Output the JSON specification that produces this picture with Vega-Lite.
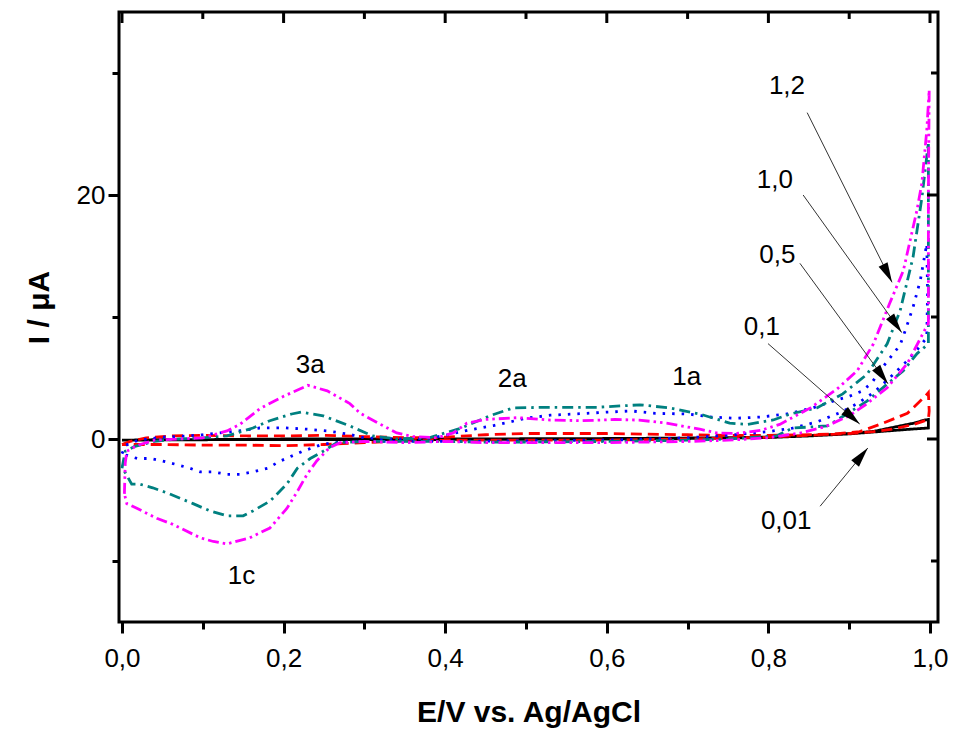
{
  "$schema": "https://vega.github.io/schema/vega-lite/v6.json",
  "width": 819,
  "height": 610,
  "autosize": {"type": "none"},
  "padding": {"left": 119, "top": 12, "right": 15, "bottom": 107},
  "config": {
    "view": {"stroke": "black", "strokeWidth": 3},
    "axis": {"domain": false, "grid": false, "tickColor": "black", "tickWidth": 3, "labelColor": "black", "labelFont": "Liberation Sans", "labelFontSize": 26, "titleFont": "Liberation Sans", "titleFontWeight": "bold", "titleFontSize": 30, "titleColor": "black", "labelOverlap": false, "labelFlush": false, "labelBound": false}
  },
  "datasets": {
    "cv": [
      {"s":"0,01","o":1,"E":0,"I":-0.1},{"s":"0,01","o":2,"E":0.05,"I":-0.05},{"s":"0,01","o":3,"E":0.1,"I":-0.05},{"s":"0,01","o":4,"E":0.2,"I":0},{"s":"0,01","o":5,"E":0.3,"I":0},{"s":"0,01","o":6,"E":0.4,"I":0},{"s":"0,01","o":7,"E":0.5,"I":0.02},{"s":"0,01","o":8,"E":0.6,"I":0.04},{"s":"0,01","o":9,"E":0.7,"I":0.08},{"s":"0,01","o":10,"E":0.75,"I":0.11},{"s":"0,01","o":11,"E":0.8,"I":0.16},{"s":"0,01","o":12,"E":0.85,"I":0.27},{"s":"0,01","o":13,"E":0.9,"I":0.45},{"s":"0,01","o":14,"E":0.93,"I":0.62},{"s":"0,01","o":15,"E":0.963,"I":1.07},{"s":"0,01","o":16,"E":0.98,"I":1.3},{"s":"0,01","o":17,"E":0.994,"I":1.56},{"s":"0,01","o":18,"E":0.998,"I":1.6},
      {"s":"0,01","o":19,"E":0.998,"I":0.9},{"s":"0,01","o":20,"E":0.975,"I":0.8},{"s":"0,01","o":21,"E":0.947,"I":0.66},{"s":"0,01","o":22,"E":0.9,"I":0.42},{"s":"0,01","o":23,"E":0.85,"I":0.25},{"s":"0,01","o":24,"E":0.8,"I":0.12},{"s":"0,01","o":25,"E":0.7,"I":0.04},{"s":"0,01","o":26,"E":0.6,"I":0},{"s":"0,01","o":27,"E":0.5,"I":-0.02},{"s":"0,01","o":28,"E":0.4,"I":-0.04},{"s":"0,01","o":29,"E":0.3,"I":-0.05},{"s":"0,01","o":30,"E":0.2,"I":-0.05},{"s":"0,01","o":31,"E":0.1,"I":-0.06},{"s":"0,01","o":32,"E":0,"I":-0.1},

      {"s":"0,1","o":1,"E":0,"I":-0.45},{"s":"0,1","o":2,"E":0.01,"I":-0.2},{"s":"0,1","o":3,"E":0.03,"I":0.1},{"s":"0,1","o":4,"E":0.06,"I":0.25},{"s":"0,1","o":5,"E":0.1,"I":0.3},{"s":"0,1","o":6,"E":0.15,"I":0.25},{"s":"0,1","o":7,"E":0.2,"I":0.25},{"s":"0,1","o":8,"E":0.25,"I":0.3},{"s":"0,1","o":9,"E":0.3,"I":0.2},{"s":"0,1","o":10,"E":0.35,"I":0.1},{"s":"0,1","o":11,"E":0.4,"I":0.15},{"s":"0,1","o":12,"E":0.45,"I":0.35},{"s":"0,1","o":13,"E":0.5,"I":0.45},{"s":"0,1","o":14,"E":0.55,"I":0.45},{"s":"0,1","o":15,"E":0.6,"I":0.45},{"s":"0,1","o":16,"E":0.65,"I":0.4},{"s":"0,1","o":17,"E":0.7,"I":0.35},{"s":"0,1","o":18,"E":0.75,"I":0.3},{"s":"0,1","o":19,"E":0.8,"I":0.3},{"s":"0,1","o":20,"E":0.85,"I":0.35},{"s":"0,1","o":21,"E":0.88,"I":0.4},{"s":"0,1","o":22,"E":0.913,"I":0.6},{"s":"0,1","o":23,"E":0.942,"I":1.3},{"s":"0,1","o":24,"E":0.972,"I":2.1},{"s":"0,1","o":25,"E":0.994,"I":3.5},{"s":"0,1","o":26,"E":0.998,"I":3.8},
      {"s":"0,1","o":27,"E":0.999,"I":2.3},{"s":"0,1","o":28,"E":0.998,"I":1.6},{"s":"0,1","o":29,"E":0.98,"I":1.2},{"s":"0,1","o":30,"E":0.957,"I":0.85},{"s":"0,1","o":31,"E":0.93,"I":0.6},{"s":"0,1","o":32,"E":0.9,"I":0.45},{"s":"0,1","o":33,"E":0.85,"I":0.3},{"s":"0,1","o":34,"E":0.8,"I":0.15},{"s":"0,1","o":35,"E":0.7,"I":0},{"s":"0,1","o":36,"E":0.6,"I":-0.1},{"s":"0,1","o":37,"E":0.5,"I":-0.1},{"s":"0,1","o":38,"E":0.4,"I":-0.1},{"s":"0,1","o":39,"E":0.35,"I":-0.15},{"s":"0,1","o":40,"E":0.3,"I":-0.3},{"s":"0,1","o":41,"E":0.25,"I":-0.45},{"s":"0,1","o":42,"E":0.2,"I":-0.55},{"s":"0,1","o":43,"E":0.15,"I":-0.5},{"s":"0,1","o":44,"E":0.1,"I":-0.5},{"s":"0,1","o":45,"E":0.05,"I":-0.45},{"s":"0,1","o":46,"E":0.02,"I":-0.45},{"s":"0,1","o":47,"E":0,"I":-0.45},

      {"s":"0,5","o":1,"E":0,"I":-1.2},{"s":"0,5","o":2,"E":0.005,"I":-0.5},{"s":"0,5","o":3,"E":0.02,"I":-0.1},{"s":"0,5","o":4,"E":0.05,"I":0.15},{"s":"0,5","o":5,"E":0.08,"I":0.25},{"s":"0,5","o":6,"E":0.1,"I":0.35},{"s":"0,5","o":7,"E":0.12,"I":0.5},{"s":"0,5","o":8,"E":0.15,"I":0.7},{"s":"0,5","o":9,"E":0.17,"I":0.9},{"s":"0,5","o":10,"E":0.2,"I":0.92},{"s":"0,5","o":11,"E":0.23,"I":0.8},{"s":"0,5","o":12,"E":0.255,"I":0.65},{"s":"0,5","o":13,"E":0.28,"I":0.4},{"s":"0,5","o":14,"E":0.3,"I":0.1},{"s":"0,5","o":15,"E":0.33,"I":0},{"s":"0,5","o":16,"E":0.36,"I":0},{"s":"0,5","o":17,"E":0.38,"I":0.05},{"s":"0,5","o":18,"E":0.4,"I":0.3},{"s":"0,5","o":19,"E":0.43,"I":0.75},{"s":"0,5","o":20,"E":0.46,"I":1.1},{"s":"0,5","o":21,"E":0.5,"I":1.7},{"s":"0,5","o":22,"E":0.53,"I":1.95},{"s":"0,5","o":23,"E":0.56,"I":2.05},{"s":"0,5","o":24,"E":0.6,"I":2.2},{"s":"0,5","o":25,"E":0.63,"I":2.3},{"s":"0,5","o":26,"E":0.66,"I":2.1},{"s":"0,5","o":27,"E":0.7,"I":2.05},{"s":"0,5","o":28,"E":0.73,"I":1.8},{"s":"0,5","o":29,"E":0.76,"I":1.7},{"s":"0,5","o":30,"E":0.79,"I":1.8},{"s":"0,5","o":31,"E":0.823,"I":2.05},{"s":"0,5","o":32,"E":0.855,"I":2.55},{"s":"0,5","o":33,"E":0.88,"I":3.1},{"s":"0,5","o":34,"E":0.9,"I":3.5},{"s":"0,5","o":35,"E":0.915,"I":3.9},{"s":"0,5","o":36,"E":0.928,"I":4.6},{"s":"0,5","o":37,"E":0.938,"I":5.6},{"s":"0,5","o":38,"E":0.95,"I":6.6},{"s":"0,5","o":39,"E":0.963,"I":7.7},{"s":"0,5","o":40,"E":0.97,"I":9.0},{"s":"0,5","o":41,"E":0.979,"I":10.8},{"s":"0,5","o":42,"E":0.988,"I":13.0},{"s":"0,5","o":43,"E":0.996,"I":16.0},
      {"s":"0,5","o":44,"E":0.997,"I":12.0},{"s":"0,5","o":45,"E":0.996,"I":8.3},{"s":"0,5","o":46,"E":0.985,"I":7.4},{"s":"0,5","o":47,"E":0.97,"I":6.3},{"s":"0,5","o":48,"E":0.95,"I":5.0},{"s":"0,5","o":49,"E":0.93,"I":3.8},{"s":"0,5","o":50,"E":0.91,"I":2.9},{"s":"0,5","o":51,"E":0.89,"I":2.2},{"s":"0,5","o":52,"E":0.86,"I":1.4},{"s":"0,5","o":53,"E":0.83,"I":0.9},{"s":"0,5","o":54,"E":0.8,"I":0.6},{"s":"0,5","o":55,"E":0.75,"I":0.3},{"s":"0,5","o":56,"E":0.7,"I":0.1},{"s":"0,5","o":57,"E":0.6,"I":-0.1},{"s":"0,5","o":58,"E":0.5,"I":-0.15},{"s":"0,5","o":59,"E":0.4,"I":-0.2},{"s":"0,5","o":60,"E":0.3,"I":-0.2},{"s":"0,5","o":61,"E":0.26,"I":-0.3},{"s":"0,5","o":62,"E":0.245,"I":-0.5},{"s":"0,5","o":63,"E":0.224,"I":-1.0},{"s":"0,5","o":64,"E":0.196,"I":-1.8},{"s":"0,5","o":65,"E":0.18,"I":-2.4},{"s":"0,5","o":66,"E":0.162,"I":-2.7},{"s":"0,5","o":67,"E":0.146,"I":-2.9},{"s":"0,5","o":68,"E":0.13,"I":-2.9},{"s":"0,5","o":69,"E":0.113,"I":-2.7},{"s":"0,5","o":70,"E":0.097,"I":-2.7},{"s":"0,5","o":71,"E":0.084,"I":-2.4},{"s":"0,5","o":72,"E":0.068,"I":-2.1},{"s":"0,5","o":73,"E":0.05,"I":-1.8},{"s":"0,5","o":74,"E":0.035,"I":-1.6},{"s":"0,5","o":75,"E":0.019,"I":-1.6},{"s":"0,5","o":76,"E":0.004,"I":-1.3},{"s":"0,5","o":77,"E":0,"I":-1.2},

      {"s":"1,0","o":1,"E":0,"I":-2.4},{"s":"1,0","o":2,"E":0.004,"I":-1.0},{"s":"1,0","o":3,"E":0.016,"I":-0.6},{"s":"1,0","o":4,"E":0.04,"I":-0.2},{"s":"1,0","o":5,"E":0.07,"I":0},{"s":"1,0","o":6,"E":0.1,"I":0.1},{"s":"1,0","o":7,"E":0.13,"I":0.25},{"s":"1,0","o":8,"E":0.162,"I":0.9},{"s":"1,0","o":9,"E":0.183,"I":1.5},{"s":"1,0","o":10,"E":0.21,"I":2.05},{"s":"1,0","o":11,"E":0.222,"I":2.2},{"s":"1,0","o":12,"E":0.249,"I":1.9},{"s":"1,0","o":13,"E":0.282,"I":1.07},{"s":"1,0","o":14,"E":0.31,"I":0.25},{"s":"1,0","o":15,"E":0.34,"I":0},{"s":"1,0","o":16,"E":0.38,"I":0.1},{"s":"1,0","o":17,"E":0.42,"I":0.9},{"s":"1,0","o":18,"E":0.455,"I":1.9},{"s":"1,0","o":19,"E":0.484,"I":2.55},{"s":"1,0","o":20,"E":0.526,"I":2.6},{"s":"1,0","o":21,"E":0.588,"I":2.6},{"s":"1,0","o":22,"E":0.641,"I":2.8},{"s":"1,0","o":23,"E":0.678,"I":2.55},{"s":"1,0","o":24,"E":0.715,"I":2.05},{"s":"1,0","o":25,"E":0.752,"I":1.3},{"s":"1,0","o":26,"E":0.774,"I":1.2},{"s":"1,0","o":27,"E":0.806,"I":1.56},{"s":"1,0","o":28,"E":0.827,"I":2.05},{"s":"1,0","o":29,"E":0.86,"I":2.55},{"s":"1,0","o":30,"E":0.892,"I":3.7},{"s":"1,0","o":31,"E":0.922,"I":5.3},{"s":"1,0","o":32,"E":0.947,"I":7.8},{"s":"1,0","o":33,"E":0.963,"I":10.5},{"s":"1,0","o":34,"E":0.979,"I":14.9},{"s":"1,0","o":35,"E":0.99,"I":19.8},{"s":"1,0","o":36,"E":0.998,"I":24.3},
      {"s":"1,0","o":37,"E":0.998,"I":16.0},{"s":"1,0","o":38,"E":0.998,"I":7.8},{"s":"1,0","o":39,"E":0.984,"I":7.0},{"s":"1,0","o":40,"E":0.967,"I":5.6},{"s":"1,0","o":41,"E":0.947,"I":4.5},{"s":"1,0","o":42,"E":0.922,"I":3.1},{"s":"1,0","o":43,"E":0.897,"I":2.05},{"s":"1,0","o":44,"E":0.873,"I":1.07},{"s":"1,0","o":45,"E":0.83,"I":0.9},{"s":"1,0","o":46,"E":0.81,"I":0.25},{"s":"1,0","o":47,"E":0.75,"I":0},{"s":"1,0","o":48,"E":0.7,"I":-0.1},{"s":"1,0","o":49,"E":0.6,"I":-0.2},{"s":"1,0","o":50,"E":0.5,"I":-0.25},{"s":"1,0","o":51,"E":0.45,"I":-0.25},{"s":"1,0","o":52,"E":0.4,"I":-0.2},{"s":"1,0","o":53,"E":0.35,"I":-0.2},{"s":"1,0","o":54,"E":0.3,"I":-0.2},{"s":"1,0","o":55,"E":0.266,"I":-0.3},{"s":"1,0","o":56,"E":0.249,"I":-1.0},{"s":"1,0","o":57,"E":0.233,"I":-1.6},{"s":"1,0","o":58,"E":0.217,"I":-2.4},{"s":"1,0","o":59,"E":0.204,"I":-3.7},{"s":"1,0","o":60,"E":0.183,"I":-5.1},{"s":"1,0","o":61,"E":0.162,"I":-5.9},{"s":"1,0","o":62,"E":0.15,"I":-6.3},{"s":"1,0","o":63,"E":0.13,"I":-6.3},{"s":"1,0","o":64,"E":0.109,"I":-5.9},{"s":"1,0","o":65,"E":0.088,"I":-5.3},{"s":"1,0","o":66,"E":0.059,"I":-4.5},{"s":"1,0","o":67,"E":0.038,"I":-4.0},{"s":"1,0","o":68,"E":0.022,"I":-3.7},{"s":"1,0","o":69,"E":0.012,"I":-3.7},{"s":"1,0","o":70,"E":0.001,"I":-2.4},

      {"s":"1,2","o":1,"E":0.003,"I":-4.5},{"s":"1,2","o":2,"E":0.004,"I":-2.0},{"s":"1,2","o":3,"E":0.006,"I":-1.0},{"s":"1,2","o":4,"E":0.02,"I":-0.5},{"s":"1,2","o":5,"E":0.04,"I":-0.1},{"s":"1,2","o":6,"E":0.07,"I":0},{"s":"1,2","o":7,"E":0.1,"I":0.1},{"s":"1,2","o":8,"E":0.13,"I":0.66},{"s":"1,2","o":9,"E":0.146,"I":1.2},{"s":"1,2","o":10,"E":0.171,"I":2.5},{"s":"1,2","o":11,"E":0.2,"I":3.5},{"s":"1,2","o":12,"E":0.23,"I":4.4},{"s":"1,2","o":13,"E":0.254,"I":3.95},{"s":"1,2","o":14,"E":0.282,"I":2.9},{"s":"1,2","o":15,"E":0.295,"I":2.1},{"s":"1,2","o":16,"E":0.32,"I":1.2},{"s":"1,2","o":17,"E":0.34,"I":0.5},{"s":"1,2","o":18,"E":0.36,"I":0.2},{"s":"1,2","o":19,"E":0.39,"I":0.1},{"s":"1,2","o":20,"E":0.41,"I":0.5},{"s":"1,2","o":21,"E":0.427,"I":1.3},{"s":"1,2","o":22,"E":0.45,"I":1.6},{"s":"1,2","o":23,"E":0.49,"I":1.75},{"s":"1,2","o":24,"E":0.53,"I":1.55},{"s":"1,2","o":25,"E":0.57,"I":1.5},{"s":"1,2","o":26,"E":0.61,"I":1.6},{"s":"1,2","o":27,"E":0.64,"I":1.55},{"s":"1,2","o":28,"E":0.674,"I":1.3},{"s":"1,2","o":29,"E":0.715,"I":0.8},{"s":"1,2","o":30,"E":0.736,"I":0.5},{"s":"1,2","o":31,"E":0.76,"I":0.45},{"s":"1,2","o":32,"E":0.79,"I":0.7},{"s":"1,2","o":33,"E":0.814,"I":1.2},{"s":"1,2","o":34,"E":0.852,"I":2.55},{"s":"1,2","o":35,"E":0.885,"I":4.1},{"s":"1,2","o":36,"E":0.91,"I":5.6},{"s":"1,2","o":37,"E":0.93,"I":7.8},{"s":"1,2","o":38,"E":0.95,"I":11.1},{"s":"1,2","o":39,"E":0.967,"I":13.8},{"s":"1,2","o":40,"E":0.984,"I":18.8},{"s":"1,2","o":41,"E":0.99,"I":21},{"s":"1,2","o":42,"E":0.996,"I":25.3},{"s":"1,2","o":43,"E":0.999,"I":28.6},
      {"s":"1,2","o":44,"E":0.998,"I":20},{"s":"1,2","o":45,"E":0.998,"I":9.5},{"s":"1,2","o":46,"E":0.972,"I":6.2},{"s":"1,2","o":47,"E":0.947,"I":4.2},{"s":"1,2","o":48,"E":0.92,"I":2.8},{"s":"1,2","o":49,"E":0.9,"I":1.9},{"s":"1,2","o":50,"E":0.87,"I":1.0},{"s":"1,2","o":51,"E":0.84,"I":0.5},{"s":"1,2","o":52,"E":0.8,"I":0.1},{"s":"1,2","o":53,"E":0.75,"I":-0.1},{"s":"1,2","o":54,"E":0.7,"I":-0.2},{"s":"1,2","o":55,"E":0.6,"I":-0.3},{"s":"1,2","o":56,"E":0.5,"I":-0.3},{"s":"1,2","o":57,"E":0.45,"I":-0.3},{"s":"1,2","o":58,"E":0.4,"I":-0.2},{"s":"1,2","o":59,"E":0.35,"I":-0.3},{"s":"1,2","o":60,"E":0.3,"I":-0.2},{"s":"1,2","o":61,"E":0.27,"I":-0.3},{"s":"1,2","o":62,"E":0.257,"I":-0.7},{"s":"1,2","o":63,"E":0.241,"I":-1.8},{"s":"1,2","o":64,"E":0.229,"I":-2.9},{"s":"1,2","o":65,"E":0.217,"I":-4.3},{"s":"1,2","o":66,"E":0.204,"I":-5.7},{"s":"1,2","o":67,"E":0.183,"I":-7.3},{"s":"1,2","o":68,"E":0.158,"I":-8.1},{"s":"1,2","o":69,"E":0.13,"I":-8.6},{"s":"1,2","o":70,"E":0.113,"I":-8.4},{"s":"1,2","o":71,"E":0.097,"I":-8.1},{"s":"1,2","o":72,"E":0.063,"I":-7.0},{"s":"1,2","o":73,"E":0.043,"I":-6.5},{"s":"1,2","o":74,"E":0.019,"I":-5.7},{"s":"1,2","o":75,"E":0.006,"I":-5.3},{"s":"1,2","o":76,"E":0.003,"I":-4.5}
    ],
    "arrows": [
      {"label":"1,2","x":0.848,"y":26.75,"x2":0.953,"y2":12.84},
      {"label":"1,0","x":0.843,"y":20.0,"x2":0.965,"y2":8.72},
      {"label":"0,5","x":0.839,"y":14.4,"x2":0.948,"y2":4.53},
      {"label":"0,1","x":0.7995,"y":7.82,"x2":0.913,"y2":1.23},
      {"label":"0,01","x":0.864,"y":-5.51,"x2":0.923,"y2":-0.74}
    ],
    "labels": [
      {"t":"1,2","E":0.823,"I":28.9},
      {"t":"1,0","E":0.808,"I":21.2},
      {"t":"0,5","E":0.811,"I":15.06},
      {"t":"0,1","E":0.792,"I":9.14},
      {"t":"0,01","E":0.822,"I":-6.75},
      {"t":"3a","E":0.233,"I":6.1},
      {"t":"2a","E":0.483,"I":4.9},
      {"t":"1a","E":0.699,"I":5.1},
      {"t":"1c","E":0.148,"I":-11.2}
    ],
    "xticks": [
      {"v":0,"k":"major"},{"v":0.1,"k":"minor"},{"v":0.2,"k":"major"},{"v":0.3,"k":"minor"},{"v":0.4,"k":"major"},{"v":0.5,"k":"minor"},{"v":0.6,"k":"major"},{"v":0.7,"k":"minor"},{"v":0.8,"k":"major"},{"v":0.9,"k":"minor"},{"v":1.0,"k":"major"}
    ],
    "yticks": [
      {"v":-10,"k":"minor"},{"v":0,"k":"major"},{"v":10,"k":"minor"},{"v":20,"k":"major"},{"v":30,"k":"minor"}
    ]
  },
  "layer": [
    {
      "data": {"name": "cv"},
      "mark": {"type": "line", "strokeWidth": 2.8, "clip": true},
      "encoding": {
        "x": {"field": "E", "type": "quantitative", "scale": {"domain": [-0.0037, 1.0099], "nice": false, "zero": false},
          "axis": {"orient": "bottom", "values": [0,0.1,0.2,0.3,0.4,0.5,0.6,0.7,0.8,0.9,1.0],
            "labelExpr": "round(datum.value*10)%2==0 ? replace(format(datum.value,'.1f'),'.',',') : ''",
            "tickSize": {"condition": {"test": "round(datum.value*10)%2==0", "value": 11}, "value": 7},
            "labelPadding": 12, "title": "E/V vs. Ag/AgCl", "titleY": 99, "titleBaseline": "alphabetic"}},
        "y": {"field": "I", "type": "quantitative", "scale": {"domain": [-15, 35], "nice": false, "zero": false},
          "axis": {"orient": "left", "values": [-10,0,10,20,30],
            "labelExpr": "datum.value==0||datum.value==20 ? format(datum.value,'d') : ''",
            "tickSize": {"condition": {"test": "datum.value%20==0", "value": 11}, "value": 7},
            "labelPadding": 3, "title": "I / μA", "titleX": -80, "titleY": 295, "titleBaseline": "middle", "titleAngle": -90}},
        "color": {"field": "s", "type": "nominal", "legend": null,
          "scale": {"domain": ["0,01","0,1","0,5","1,0","1,2"], "range": ["#000000","#FF0000","#0000FF","#008080","#FF00FF"]}},
        "strokeDash": {"field": "s", "type": "nominal", "legend": null,
          "scale": {"domain": ["0,01","0,1","0,5","1,0","1,2"], "range": [[1,0],[11,6],[2.5,7],[11,5,2.5,5],[11,4,2.5,4,2.5,4]]}},
        "order": {"field": "o", "type": "quantitative"}
      }
    },
    {
      "data": {"name": "xticks"},
      "transform": [{"filter": "datum.k == 'major'"}],
      "mark": {"type": "rule", "color": "black", "strokeWidth": 3},
      "encoding": {
        "x": {"field": "v", "type": "quantitative"},
        "y": {"datum": 35},
        "y2": {"datum": 34.1}
      }
    },
    {
      "data": {"name": "xticks"},
      "transform": [{"filter": "datum.k == 'minor'"}],
      "mark": {"type": "rule", "color": "black", "strokeWidth": 3},
      "encoding": {
        "x": {"field": "v", "type": "quantitative"},
        "y": {"datum": 35},
        "y2": {"datum": 34.43}
      }
    },
    {
      "data": {"name": "yticks"},
      "transform": [{"filter": "datum.k == 'major'"}],
      "mark": {"type": "rule", "color": "black", "strokeWidth": 3},
      "encoding": {
        "y": {"field": "v", "type": "quantitative"},
        "x": {"datum": 1.0099},
        "x2": {"datum": 0.9963}
      }
    },
    {
      "data": {"name": "yticks"},
      "transform": [{"filter": "datum.k == 'minor'"}],
      "mark": {"type": "rule", "color": "black", "strokeWidth": 3},
      "encoding": {
        "y": {"field": "v", "type": "quantitative"},
        "x": {"datum": 1.0099},
        "x2": {"datum": 1.0012}
      }
    },
    {
      "data": {"name": "arrows"},
      "mark": {"type": "rule", "color": "#333333", "strokeWidth": 1},
      "encoding": {
        "x": {"field": "x", "type": "quantitative"},
        "y": {"field": "y", "type": "quantitative"},
        "x2": {"field": "x2"},
        "y2": {"field": "y2"}
      }
    },
    {
      "data": {"name": "arrows"},
      "mark": {"type": "point", "filled": true, "color": "black", "opacity": 1, "size": 1600, "strokeWidth": 0,
        "shape": "M0,0L0.25,1L-0.25,1Z",
        "angle": {"expr": "atan2(scale('x', datum.x2) - scale('x', datum.x), scale('y', datum.y) - scale('y', datum.y2)) * 180 / PI"}},
      "encoding": {
        "x": {"field": "x2", "type": "quantitative"},
        "y": {"field": "y2", "type": "quantitative"}
      }
    },
    {
      "data": {"name": "labels"},
      "mark": {"type": "text", "font": "Liberation Sans", "fontSize": 26, "color": "black", "align": "center", "baseline": "middle"},
      "encoding": {
        "x": {"field": "E", "type": "quantitative"},
        "y": {"field": "I", "type": "quantitative"},
        "text": {"field": "t"}
      }
    }
  ]
}
